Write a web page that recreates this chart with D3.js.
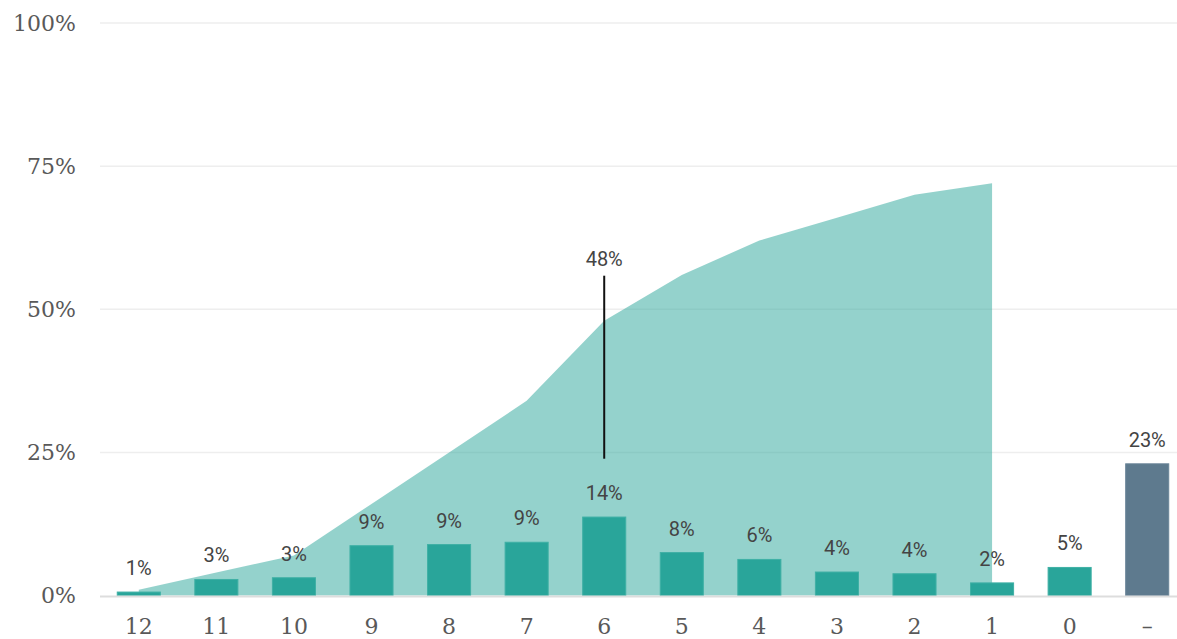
<!DOCTYPE html>
<html>
<head>
<meta charset="utf-8">
<script src="https://cdn.jsdelivr.net/npm/d3@7"></script>
<style>
  html, body { margin: 0; padding: 0; background: #fff; }
  svg { display: block; }
  .tick-label { font-family: "DejaVu Serif", serif; font-size: 22px; fill: #595959; }
  .bar-label { font-family: Roboto, "Noto Sans", sans-serif; font-size: 20px; fill: #444; }
</style>
</head>
<body>
<svg id="chart" width="1177" height="639"></svg>
<script>
// Categories (remaining count), share per category and running total
const categories = ["12", "11", "10", "9", "8", "7", "6", "5", "4", "3", "2", "1", "0", "–"];
const shares = [0.6, 2.8, 3.1, 8.7, 8.9, 9.3, 13.7, 7.5, 6.3, 4.1, 3.8, 2.2, 4.9, 23.0];
const cumulativeCats = ["12", "11", "10", "9", "8", "7", "6", "5", "4", "3", "2", "1"];
const cumulative = [1, 4, 7, 16, 25, 34, 48, 56, 62, 66, 70, 72];
const yTicks = [0, 25, 50, 75, 100];
const markerCat = "6";
const markerValue = 48;
const missingCat = "–";

const svg = d3.select("#chart");
const plotLeft = 100, plotRight = 1186, plotTop = 23, plotBottom = 595.5;

const x = d3.scaleBand().domain(categories).range([plotLeft, plotRight])
  .paddingInner(0.445).paddingOuter(0.2225);
const y = d3.scaleLinear().domain([0, 100]).range([plotBottom, plotTop]);
const cx = c => x(c) + x.bandwidth() / 2;

// Horizontal grid lines
svg.append("g").selectAll("line").data(yTicks.filter(d => d > 0)).join("line")
  .attr("x1", plotLeft).attr("x2", 1177)
  .attr("y1", d => y(d)).attr("y2", d => y(d))
  .attr("stroke", "#eeeeee").attr("stroke-width", 1.5);

// Y axis labels
const yAxis = svg.append("g").attr("transform", `translate(${plotLeft - 24},0)`)
  .call(d3.axisLeft(y).tickValues(yTicks).tickFormat(d => d + "%").tickSize(0).tickPadding(0));
yAxis.select(".domain").remove();
yAxis.selectAll("text").attr("class", "tick-label").attr("dy", "0.33em");
yAxis.attr("font-family", null).attr("font-size", null).attr("fill", null);

// Cumulative share as a translucent area
const area = d3.area()
  .x((d, i) => cx(cumulativeCats[i]))
  .y0(y(0))
  .y1(d => y(d))
  .curve(d3.curveLinear);
svg.append("path").datum(cumulative)
  .attr("d", area)
  .attr("fill", "#29a59a").attr("fill-opacity", 0.5);

// Bars
svg.append("g").selectAll("rect").data(categories).join("rect")
  .attr("x", c => x(c))
  .attr("y", (c, i) => y(shares[i]))
  .attr("width", x.bandwidth())
  .attr("height", (c, i) => y(0) - y(shares[i]))
  .attr("fill", c => c === missingCat ? "#5e7a8e" : "#29a59a")
  .attr("stroke", c => c === missingCat ? "#6a8598" : "#3fb0a5")
  .attr("stroke-width", 1);

// Baseline
svg.append("line")
  .attr("x1", plotLeft).attr("x2", 1177)
  .attr("y1", y(0) + 1).attr("y2", y(0) + 1)
  .attr("stroke", "#dddddd").attr("stroke-width", 2);

// Bar value labels
svg.append("g").selectAll("text").data(categories).join("text")
  .attr("class", "bar-label")
  .attr("x", c => cx(c))
  .attr("y", (c, i) => y(shares[i]) - 17)
  .attr("text-anchor", "middle")
  .text((c, i) => Math.round(shares[i]) + "%");

// X axis labels
const xAxis = svg.append("g").attr("transform", `translate(0,${plotBottom})`)
  .call(d3.axisBottom(x).tickSize(0).tickPadding(0));
xAxis.select(".domain").remove();
xAxis.selectAll("text").attr("class", "tick-label").attr("y", 38).attr("dy", 0);
xAxis.attr("font-family", null).attr("font-size", null).attr("fill", null);

// Marker for the cumulative share at category 6
const mx = cx(markerCat);
svg.append("line")
  .attr("x1", mx).attr("x2", mx)
  .attr("y1", y(markerValue) - 45).attr("y2", y(markerValue) + 138)
  .attr("stroke", "#111").attr("stroke-width", 2);
svg.append("text").attr("class", "bar-label")
  .attr("x", mx).attr("y", y(markerValue) - 55)
  .attr("text-anchor", "middle")
  .text(markerValue + "%");
</script>
</body>
</html>
